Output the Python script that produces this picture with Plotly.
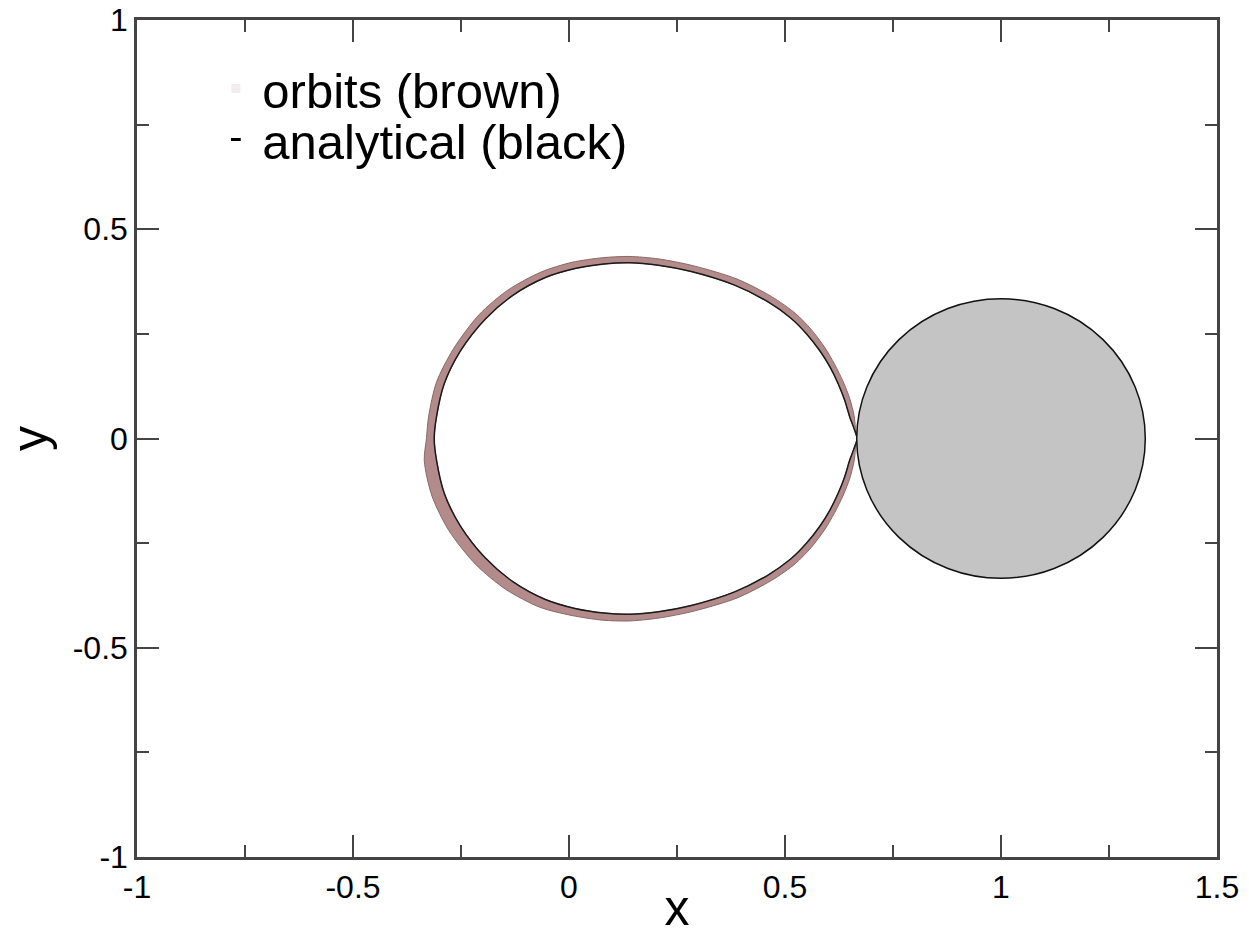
import plotly.graph_objects as go

# ---- data ----
# analytical (black) teardrop curve (inner edge of the band), closed loop from the cusp
analytical_x = [0.667, 0.659, 0.650, 0.638, 0.623, 0.604, 0.581, 0.549, 0.513, 0.458,
                0.382, 0.283, 0.207, 0.140, 0.081, 0.014, -0.056, -0.130, -0.194,
                -0.252, -0.289, -0.307, -0.312,
                -0.307, -0.289, -0.252, -0.194, -0.130, -0.056, 0.014, 0.081, 0.140,
                0.207, 0.283, 0.382, 0.458, 0.513, 0.549, 0.581, 0.604, 0.623, 0.638,
                0.650, 0.659, 0.667]
analytical_y = [0.000, 0.026, 0.051, 0.092, 0.131, 0.171, 0.209, 0.251, 0.288, 0.328,
                0.367, 0.399, 0.414, 0.420, 0.417, 0.406, 0.384, 0.342, 0.285,
                0.208, 0.130, 0.050, 0.000,
                -0.050, -0.130, -0.208, -0.285, -0.342, -0.384, -0.406, -0.417, -0.420,
                -0.414, -0.399, -0.367, -0.328, -0.288, -0.251, -0.209, -0.171, -0.131, -0.092,
                -0.051, -0.026, 0.000]

# outer edge of the band of numerical orbits (brown)
orbits_outer_x = [0.667, 0.663, 0.660, 0.650, 0.635, 0.615, 0.593, 0.561, 0.524, 0.469,
                  0.389, 0.287, 0.208, 0.139, 0.078, 0.007, -0.064, -0.141, -0.208,
                  -0.267, -0.307, -0.325, -0.330,
                  -0.335, -0.317, -0.278, -0.216, -0.147, -0.068, 0.007, 0.077, 0.139,
                  0.208, 0.287, 0.389, 0.469, 0.524, 0.561, 0.593, 0.615, 0.635, 0.650,
                  0.660, 0.663, 0.667]
orbits_outer_y = [0.000, 0.027, 0.054, 0.095, 0.135, 0.177, 0.216, 0.260, 0.299, 0.339,
                  0.381, 0.413, 0.429, 0.435, 0.432, 0.421, 0.398, 0.355, 0.296,
                  0.215, 0.134, 0.052, 0.000,
                  -0.053, -0.138, -0.220, -0.301, -0.360, -0.403, -0.423, -0.434, -0.436,
                  -0.429, -0.413, -0.381, -0.339, -0.299, -0.260, -0.216, -0.177, -0.135, -0.095,
                  -0.054, -0.027, 0.000]

# filled disc on the right
disc_center = (1.0, 0.0)
disc_radius = 0.334

x_tickvals = [-1, -0.5, 0, 0.5, 1, 1.5]
x_ticktext = ["-1", "-0.5", "0", "0.5", "1", "1.5"]
y_tickvals = [-1, -0.5, 0, 0.5, 1]
y_ticktext = ["-1", "-0.5", "0", "0.5", "1"]

FONT = "Liberation Sans, Arial, Helvetica, sans-serif"

fig = go.Figure()

# brown band: outer edge then inner (analytical) edge reversed
band_x = orbits_outer_x + analytical_x[::-1]
band_y = orbits_outer_y + analytical_y[::-1]
fig.add_trace(go.Scatter(
    x=band_x, y=band_y, mode="lines", fill="toself",
    fillcolor="#b38b8b", line=dict(color="#8a6868", width=1, shape="spline", smoothing=0.8),
    showlegend=False, hoverinfo="skip"))

fig.add_trace(go.Scatter(
    x=analytical_x, y=analytical_y, mode="lines",
    line=dict(color="#1a1a1a", width=1.5, shape="spline", smoothing=0.8),
    showlegend=False, hoverinfo="skip"))

# legend entries
fig.add_trace(go.Scatter(
    x=[None], y=[None], mode="markers", name="orbits (brown)",
    marker=dict(symbol="square", size=9, color="#f2eded", line=dict(width=0)),
    legend="legend"))
fig.add_trace(go.Scatter(
    x=[None], y=[None], mode="markers", name="analytical (black)",
    marker=dict(symbol="line-ew", size=7, line=dict(color="black", width=3)),
    legend="legend2"))

cx, cy = disc_center
fig.add_shape(type="circle", xref="x", yref="y",
              x0=cx - disc_radius, x1=cx + disc_radius,
              y0=cy - disc_radius, y1=cy + disc_radius,
              fillcolor="#c4c4c4", line=dict(color="#111111", width=1.5),
              layer="above")

axis_common = dict(
    showgrid=False, zeroline=False, showline=True, mirror="ticks",
    linecolor="#444444", linewidth=2.5, automargin=False,
    ticks="inside", ticklen=22, tickwidth=2, tickcolor="#444444",
    tickfont=dict(family=FONT, size=32, color="black"),
)

fig.update_xaxes(range=[-1, 1.5], tickvals=x_tickvals, ticktext=x_ticktext,
                 minor=dict(ticks="inside", ticklen=12, tickwidth=2, tickcolor="#444444", dtick=0.25, tick0=0),
                 title=dict(text="x", font=dict(family=FONT, size=50, color="black"), standoff=0),
                 **axis_common)
fig.update_yaxes(range=[-1, 1], tickvals=y_tickvals, ticktext=y_ticktext,
                 minor=dict(ticks="inside", ticklen=12, tickwidth=2, tickcolor="#444444", dtick=0.25, tick0=0),
                 title=dict(text="y", font=dict(family=FONT, size=50, color="black"), standoff=10),
                 **axis_common)

legend_common = dict(font=dict(family=FONT, size=49, color="black"),
                     bgcolor="rgba(0,0,0,0)", borderwidth=0, itemwidth=43,
                     xanchor="left", yanchor="middle")
fig.update_layout(
    width=1249, height=936,
    margin=dict(l=137, r=32, t=20, b=79),
    paper_bgcolor="white", plot_bgcolor="white",
    legend=dict(x=0.067, y=0.918, **legend_common),
    legend2=dict(x=0.067, y=0.857, **legend_common),
)

fig.write_html("out.html", config={"displayModeBar": False},
               post_script="document.body.style.margin='0';document.body.style.overflow='hidden';")
